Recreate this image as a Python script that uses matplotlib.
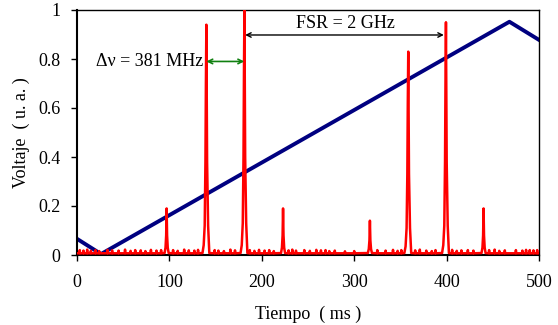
import matplotlib
matplotlib.use("Agg")
import matplotlib.pyplot as plt

# ---- data ----
# blue ramp (voltage applied), vertices
ramp_t = [0, 26, 468, 500]
ramp_v = [0.066, 0.004, 0.952, 0.878]

# red transmission peaks: explicit samples around each peak
peak_t = [
    [94.8, 95.8, 96.5, 97.0, 97.5, 98.2, 99.2],
    [135.8, 137.1, 138.2, 139.0, 139.5, 140.0, 140.8, 141.9, 143.2],
    [177.0, 178.3, 179.4, 180.2, 180.7, 181.2, 182.0, 183.1, 184.4],
    [220.8, 221.8, 222.5, 223.0, 223.5, 224.2, 225.2],
    [314.8, 315.8, 316.5, 317.0, 317.5, 318.2, 319.2],
    [354.3, 355.6, 356.7, 357.5, 358.0, 358.5, 359.3, 360.4, 361.7],
    [395.1, 396.4, 397.5, 398.3, 398.8, 399.3, 400.1, 401.2, 402.5],
    [437.8, 438.8, 439.5, 440.0, 440.5, 441.2, 442.2],
]
peak_v = [
    [0.008, 0.03, 0.08, 0.19, 0.08, 0.03, 0.008],
    [0.008, 0.04, 0.12, 0.38, 0.70, 0.94, 0.38, 0.12, 0.008],
    [0.008, 0.04, 0.13, 0.40, 0.75, 1.00, 0.40, 0.13, 0.008],
    [0.008, 0.03, 0.08, 0.19, 0.08, 0.03, 0.008],
    [0.008, 0.025, 0.06, 0.14, 0.06, 0.025, 0.008],
    [0.008, 0.035, 0.11, 0.33, 0.62, 0.83, 0.33, 0.11, 0.008],
    [0.008, 0.04, 0.12, 0.38, 0.71, 0.95, 0.38, 0.12, 0.008],
    [0.008, 0.03, 0.08, 0.19, 0.08, 0.03, 0.008],
]
# small noise spikes on the baseline
noise_t = [3, 7, 11, 15, 20, 24, 33, 38, 45, 52, 58, 63, 69, 74, 80, 86, 91,
           104, 109, 116, 121, 127, 131, 149, 153, 159, 166, 171, 187, 192, 197,
           203, 208, 213, 229, 233, 237, 246, 252, 259, 264, 269, 273, 279,
           290, 300, 325, 334, 342, 347, 351, 366, 371, 378, 384, 388, 406,
           411, 416, 423, 429, 446, 452, 457, 463, 475, 482, 486, 490, 494, 498]
noise_v = [0.02, 0.018, 0.022, 0.017, 0.02, 0.016, 0.021, 0.019, 0.018, 0.022,
           0.017, 0.02, 0.019, 0.016, 0.021, 0.018, 0.02, 0.02, 0.017, 0.022,
           0.019, 0.018, 0.021, 0.02, 0.018, 0.016, 0.022, 0.019, 0.02, 0.017,
           0.021, 0.018, 0.02, 0.016, 0.019, 0.022, 0.018, 0.02, 0.017, 0.021,
           0.019, 0.02, 0.016, 0.018, 0.015, 0.016, 0.02, 0.018, 0.021, 0.017,
           0.02, 0.019, 0.022, 0.018, 0.016, 0.02, 0.021, 0.017, 0.019, 0.02,
           0.018, 0.02, 0.022, 0.017, 0.019, 0.02, 0.018, 0.021, 0.02, 0.019, 0.02]
baseline = 0.007

x_ticks = [0, 100, 200, 300, 400, 500]
y_ticks = [0, 0.2, 0.4, 0.6, 0.8, 1]
y_tick_labels = ["0", "0.2", "0.4", "0.6", "0.8", "1"]

# ---- assemble red trace from the samples above ----
pts = [(0, baseline), (500, baseline)]
for ts, vs in zip(peak_t, peak_v):
    pts += list(zip(ts, vs))
for t, v in zip(noise_t, noise_v):
    pts += [(t - 0.4, baseline), (t, v), (t + 0.4, baseline)]
pts.sort()
red_t = [p[0] for p in pts]
red_v = [p[1] for p in pts]

# ---- plot ----
plt.rcParams["font.family"] = ["Liberation Serif", "DejaVu Serif"]
fig = plt.figure(figsize=(5.58, 3.25), dpi=100)
ax = fig.add_axes([77 / 558, 70 / 325, 462 / 558, 245 / 325])

ax.plot(ramp_t, ramp_v, color="#000080", lw=2.8, zorder=2)
ax.plot(red_t, red_v, color="#ff0000", lw=1.8, zorder=3)

ax.set_xlim(0, 500)
ax.set_ylim(0, 1)
ax.set_xticks(x_ticks)
ax.set_yticks(y_ticks)
ax.set_yticklabels(y_tick_labels)
ax.tick_params(direction="out", length=4, width=1, labelsize=13)
ax.tick_params(axis="x", pad=10)
ax.tick_params(axis="y", pad=8)
for s in ax.spines.values():
    s.set_linewidth(1)
ax.spines["left"].set_linewidth(1.5)
ax.spines["bottom"].set_linewidth(1.5)

ax.set_xlabel("Tiempo  ( ms )", fontsize=13, labelpad=10)
ax.set_ylabel("Voltaje  ( u. a. )", fontsize=13, labelpad=6)

# annotations
ax.annotate("", xy=(140, 0.79), xytext=(181, 0.79),
            arrowprops=dict(arrowstyle="<->", color="#108010", lw=1.2,
                            shrinkA=0, shrinkB=0, mutation_scale=8))
ax.text(137, 0.79, "\u0394\u03bd = 381 MHz", fontsize=13, ha="right", va="center")
ax.annotate("", xy=(182, 0.898), xytext=(397, 0.898),
            arrowprops=dict(arrowstyle="<->", color="black", lw=1.0,
                            shrinkA=0, shrinkB=0, mutation_scale=8))
ax.text(290, 0.945, "FSR = 2 GHz", fontsize=13, ha="center", va="center")

fig.savefig("out.png", dpi=100)
